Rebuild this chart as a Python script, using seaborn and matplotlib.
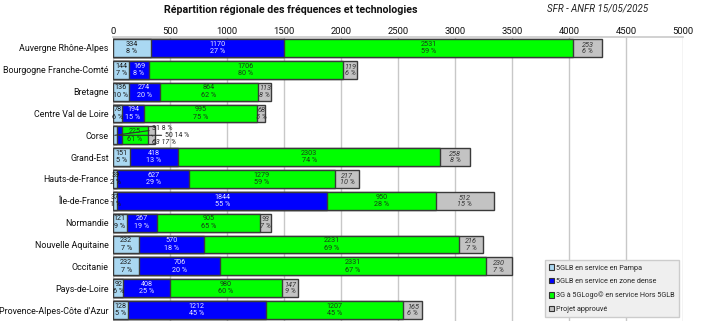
import matplotlib
matplotlib.use("Agg")
import matplotlib.pyplot as plt
import seaborn as sns
import pandas as pd
from matplotlib.patches import Patch, Rectangle

regions = ["Auvergne Rhône-Alpes", "Bourgogne Franche-Comté", "Bretagne",
           "Centre Val de Loire", "Corse", "Grand-Est", "Hauts-de-France",
           "Île-de-France", "Normandie", "Nouvelle Aquitaine", "Occitanie",
           "Pays-de-Loire", "Provence-Alpes-Côte d'Azur"]
pampa = [334, 144, 136, 78, 31, 151, 39, 37, 121, 232, 232, 92, 128]
dense = [1170, 169, 274, 194, 50, 418, 627, 1844, 267, 570, 706, 408, 1212]
hors = [2531, 1706, 864, 995, 225, 2303, 1279, 950, 905, 2231, 2331, 980, 1207]
projet = [253, 119, 113, 68, 63, 258, 217, 512, 93, 216, 230, 147, 165]
series_names = ["5GLB en service en Pampa", "5GLB en service en zone dense",
                "3G à 5GLogo© en service Hors 5GLB", "Projet approuvé"]
xticks = [0, 500, 1000, 1500, 2000, 2500, 3000, 3500, 4000, 4500, 5000]
title = "Répartition régionale des fréquences et technologies"
source = "SFR - ANFR 15/05/2025"

colors = ["#aad8f2", "#0000ff", "#00ff00", "#c3c3c3"]
text_colors = ["#1a1a1a", "#e8e8ff", "#1a3a1a", "#333333"]
text_styles = ["normal", "normal", "normal", "italic"]

sns.set_theme(style="white")
plt.rcParams['font.family'] = ['Roboto', 'DejaVu Sans']

fig = plt.figure(figsize=(7.01, 3.28), dpi=100)
ax = fig.add_axes([113 / 701, 1 - 321 / 328, 570 / 701, 284 / 328])

cols = ["pampa", "dense", "hors", "projet"]
df = pd.DataFrame({"region": regions, "pampa": pampa, "dense": dense,
                   "hors": hors, "projet": projet})
cum = df[cols].cumsum(axis=1)
totals = cum["projet"]

for i in reversed(range(4)):
    sns.barplot(x=cum[cols[i]], y=df["region"], orient="h", color=colors[i],
                saturation=1, edgecolor="#3a3a3a", linewidth=1.0, width=0.82,
                ax=ax, zorder=3)

ax.set_xlim(0, 5000)
ax.set_ylim(12.5, -0.5)
ax.set_xticks(xticks)
ax.xaxis.tick_top()
ax.tick_params(axis="x", labelsize=6.8, pad=1, length=0, colors="#111")
ax.tick_params(axis="y", labelsize=6.4, pad=3, length=0, colors="#111")
ax.set_xlabel("")
ax.set_ylabel("")
ax.set_axisbelow(True)
ax.xaxis.grid(True, color="#c8c8c8", lw=1)
for s in ax.spines.values():
    s.set_visible(False)
ax.spines["top"].set_visible(True)
ax.spines["top"].set_color("#cccccc")

for r in range(len(regions)):
    vals = [df.loc[r, c] for c in cols]
    tot = totals[r]
    for j in range(4):
        v = vals[j]
        left = cum.loc[r, cols[j]] - v
        pct = round(100 * v / tot)
        label = f"{v}\n{pct} %"
        if regions[r] == "Corse" and j != 2:
            continue
        rect = Rectangle((left, r - 0.41), v, 0.82, transform=ax.transData,
                         visible=False)
        ax.add_patch(rect)
        t = ax.text(left + v / 2, r, label, ha="center", va="center",
                    fontsize=5.2, color=text_colors[j], style=text_styles[j],
                    fontstretch="condensed", linespacing=1.1, zorder=5)
        t.set_clip_path(rect)

# Corse: small segments labelled outside
r = regions.index("Corse")
tot = totals[r]
out_pos = {0: (345, r - 0.3), 1: (455, r), 3: (345, r + 0.32)}
for j, (lx, ly) in out_pos.items():
    v = df.loc[r, cols[j]]
    left = cum.loc[r, cols[j]] - v
    pct = round(100 * v / tot)
    ax.annotate(f"{v} {pct} %", xy=(left + v / 2, r), xytext=(lx, ly),
                fontsize=5, color="#222", style=text_styles[j],
                fontstretch="condensed", va="center", ha="left", zorder=6,
                arrowprops=dict(arrowstyle="-", lw=0.8, color="#333",
                                shrinkA=0, shrinkB=0))

handles = [Patch(facecolor=colors[i], edgecolor="#333", lw=0.8,
                 label=series_names[i]) for i in range(4)]
leg = ax.legend(handles=handles, loc="lower right", fontsize=5.2,
                frameon=True, fancybox=False, handlelength=0.75,
                handleheight=0.75, handletextpad=0.3, labelspacing=0.9,
                borderpad=0.6, bbox_to_anchor=(1.0, 0.0))
leg.get_frame().set_facecolor("#efefef")
leg.get_frame().set_edgecolor("#cccccc")
leg.get_frame().set_alpha(1)
leg.set_zorder(10)

fig.text(291 / 701, 1 - 10 / 328, title, ha="center", va="center",
         fontsize=7.7, fontweight="bold", color="#111")
fig.text(598 / 701, 1 - 9 / 328, source, ha="center", va="center",
         fontsize=7, style="italic", color="#222")

fig.savefig("out.png", dpi=100)
